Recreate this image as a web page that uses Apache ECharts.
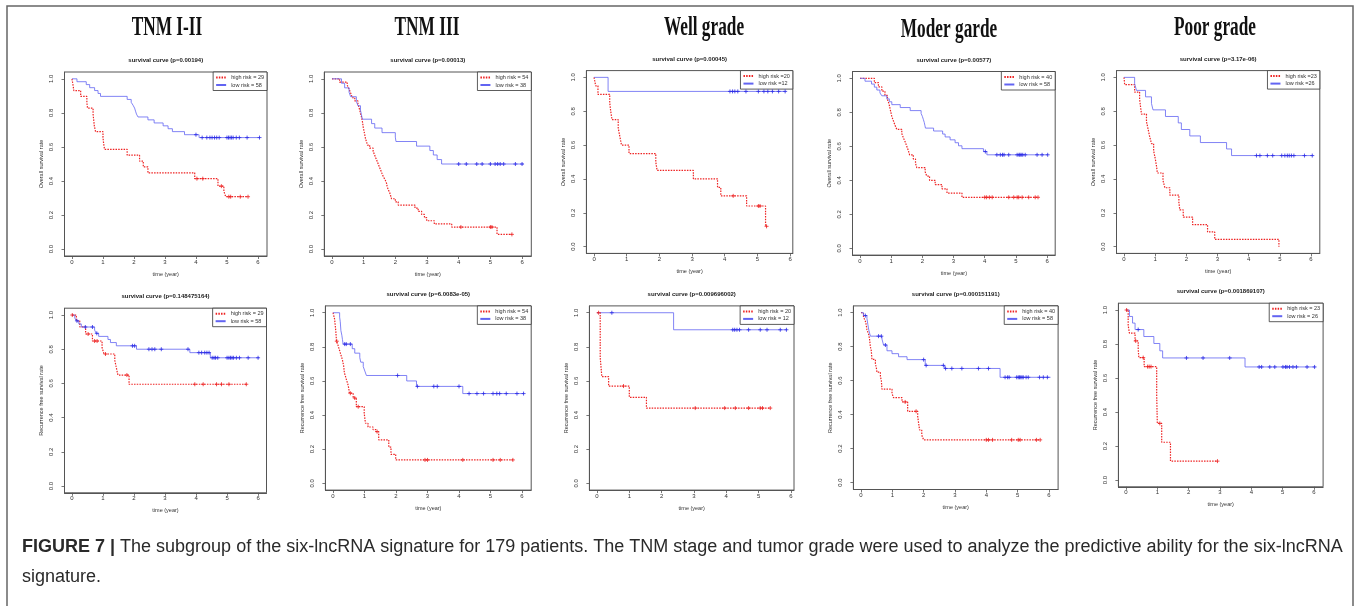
<!DOCTYPE html>
<html><head><meta charset="utf-8">
<script src="https://cdn.jsdelivr.net/npm/echarts@6/dist/echarts.min.js"></script>
<style>html,body{margin:0;padding:0;background:#fff}#c{width:1358px;height:606px}</style>
</head><body><div id="c"></div>
<script>
// ---------------- data ----------------
const panelTitles = ['TNM I-II', 'TNM III', 'Well grade', 'Moder garde', 'Poor grade'];
const subtitles = [
  'survival curve (p=0.00194)', 'survival curve (p=0.00013)', 'survival curve (p=0.00045)',
  'survival curve (p=0.00577)', 'survival curve (p=3.17e-06)',
  'survival curve (p=0.148475164)', 'survival curve (p=6.0083e-05)', 'survival curve (p=0.009696002)',
  'survival curve (p=0.000151191)', 'survival curve (p=0.001869107)'
];
const highNames = ['high risk = 29', 'high risk = 54', 'high risk =20', 'high risk = 40', 'high risk =23',
                   'high risk = 29', 'high risk = 54', 'high risk = 20', 'high risk = 40', 'high risk = 23'];
const lowNames  = ['low risk = 58', 'low risk = 38', 'low risk =12', 'low risk = 58', 'low risk =26',
                   'low risk = 58', 'low risk = 38', 'low risk = 12', 'low risk = 58', 'low risk = 26'];
const yAxisNames = ['Overall survival rate', 'Recurrence free survival rate'];
const xAxisName = 'time (year)';
const xTicks = [0, 1, 2, 3, 4, 5, 6];
const yTicks = [0, 0.2, 0.4, 0.6, 0.8, 1.0];
const captionBold = 'FIGURE 7 |';
const captionLine1 = ' The subgroup of the six-lncRNA signature for 179 patients. The TNM stage and tumor grade were used to analyze the predictive ability for the six-lncRNA';
const captionLine2 = 'signature.';

// Overall survival, TNM I-II
const osTnm12High = [[0,1],[0.03,0.966],[0.06,0.931],[0.28,0.897],[0.48,0.862],[0.5,0.828],[0.68,0.793],[0.7,0.759],[0.72,0.724],[0.76,0.69],[1.0,0.655],[1.02,0.621],[1.05,0.586],[1.78,0.552],[2.18,0.517],[2.3,0.483],[2.45,0.448],[3.96,0.414],[4.71,0.37],[4.9,0.34],[4.96,0.308],[5.68,0.308]];
const osTnm12HighCens = [4.03,4.22,4.82,5.06,5.12,5.43,5.68];
const osTnm12Low = [[0,1],[0.16,0.983],[0.46,0.966],[0.57,0.948],[0.73,0.931],[0.84,0.914],[0.92,0.897],[1.78,0.879],[1.91,0.862],[1.97,0.845],[2.02,0.828],[2.05,0.81],[2.08,0.793],[2.13,0.776],[2.45,0.759],[2.65,0.741],[2.94,0.724],[3.1,0.707],[3.24,0.69],[3.63,0.672],[4.1,0.655],[6.05,0.655]];
const osTnm12LowCens = [4.0,4.2,4.35,4.45,4.52,4.6,4.67,4.75,5.0,5.05,5.1,5.15,5.2,5.3,5.4,5.65,6.05];

// Overall survival, TNM III
const osTnm3High = [[0,1],[0.24,0.981],[0.48,0.963],[0.53,0.944],[0.57,0.926],[0.61,0.907],[0.64,0.889],[0.72,0.87],[0.82,0.852],[0.85,0.833],[0.88,0.815],[0.9,0.796],[0.93,0.778],[0.95,0.759],[0.97,0.741],[0.98,0.722],[1.0,0.704],[1.02,0.685],[1.04,0.667],[1.06,0.648],[1.09,0.63],[1.12,0.611],[1.19,0.593],[1.3,0.574],[1.34,0.556],[1.38,0.537],[1.42,0.519],[1.46,0.5],[1.5,0.481],[1.54,0.463],[1.58,0.444],[1.62,0.426],[1.68,0.407],[1.72,0.389],[1.74,0.37],[1.77,0.352],[1.82,0.333],[1.85,0.315],[1.88,0.296],[2.0,0.278],[2.09,0.259],[2.62,0.241],[2.72,0.222],[2.83,0.204],[2.92,0.185],[2.99,0.167],[3.23,0.148],[3.78,0.13],[5.21,0.087],[5.68,0.087]];
const osTnm3HighCens = [4.07,5.0,5.05,5.68];
const osTnm3Low = [[0,1],[0.3,0.974],[0.4,0.947],[0.54,0.921],[0.59,0.895],[0.77,0.868],[0.82,0.842],[0.9,0.816],[0.93,0.789],[0.96,0.763],[1.25,0.737],[1.35,0.711],[1.58,0.684],[2.0,0.658],[2.02,0.632],[2.67,0.605],[3.09,0.579],[3.2,0.553],[3.32,0.526],[3.46,0.5],[6.05,0.5]];
const osTnm3LowCens = [4.0,4.24,4.57,4.74,5.0,5.15,5.23,5.31,5.42,5.79,6.0];

// Overall survival, well grade
const osWellHigh = [[0,1],[0.05,0.95],[0.12,0.9],[0.48,0.85],[0.51,0.8],[0.55,0.75],[0.74,0.7],[0.79,0.65],[0.84,0.6],[1.07,0.55],[1.89,0.5],[1.93,0.45],[3.04,0.4],[3.78,0.35],[3.88,0.3],[4.67,0.24],[5.25,0.12],[5.28,0.12]];
const osWellHighCens = [4.26,5.03,5.08,5.28];
const osWellLow = [[0,1],[0.43,0.917],[5.85,0.917]];
const osWellLowCens = [4.16,4.24,4.31,4.4,4.65,5.03,5.2,5.32,5.46,5.65,5.85];

// Overall survival, moderate grade
const osModerHigh = [[0,1],[0.46,0.975],[0.59,0.95],[0.7,0.925],[0.8,0.9],[0.88,0.875],[0.93,0.85],[0.96,0.825],[0.99,0.8],[1.02,0.775],[1.07,0.75],[1.12,0.725],[1.18,0.7],[1.34,0.675],[1.39,0.65],[1.45,0.625],[1.5,0.6],[1.55,0.575],[1.59,0.55],[1.71,0.525],[1.78,0.5],[1.82,0.475],[2.09,0.45],[2.14,0.425],[2.23,0.4],[2.41,0.375],[2.63,0.35],[2.79,0.325],[3.27,0.3],[5.71,0.3]];
const osModerHighCens = [4.0,4.06,4.15,4.24,4.77,4.93,5.04,5.09,5.2,5.41,5.62,5.71];
const osModerLow = [[0,1],[0.16,0.983],[0.37,0.966],[0.46,0.948],[0.54,0.931],[0.64,0.914],[0.7,0.897],[0.86,0.879],[0.94,0.862],[1.02,0.845],[1.29,0.828],[1.61,0.81],[1.96,0.793],[2.0,0.776],[2.03,0.759],[2.06,0.741],[2.08,0.724],[2.1,0.707],[2.36,0.69],[2.65,0.672],[2.73,0.655],[2.89,0.638],[3.05,0.621],[3.16,0.603],[3.27,0.586],[3.96,0.569],[4.07,0.55],[6.02,0.55]];
const osModerLowCens = [4.02,4.39,4.5,4.57,4.62,4.77,5.04,5.1,5.13,5.17,5.22,5.3,5.68,5.84,6.02];

// Overall survival, poor grade
const osPoorHigh = [[0,1],[0.02,0.957],[0.34,0.913],[0.5,0.87],[0.53,0.826],[0.56,0.783],[0.72,0.739],[0.77,0.696],[0.82,0.652],[0.88,0.609],[0.95,0.565],[1.0,0.522],[1.04,0.478],[1.07,0.435],[1.25,0.391],[1.31,0.348],[1.47,0.304],[1.76,0.261],[1.79,0.217],[1.9,0.174],[2.2,0.13],[2.68,0.087],[2.91,0.043],[4.97,0.0]];
const osPoorHighCens = [];
const osPoorLow = [[0,1],[0.34,0.962],[0.4,0.923],[0.69,0.885],[0.88,0.846],[0.93,0.808],[1.33,0.769],[1.74,0.731],[1.84,0.692],[2.11,0.654],[2.45,0.615],[3.29,0.577],[3.45,0.538],[6.04,0.538]];
const osPoorLowCens = [4.25,4.36,4.6,4.77,5.06,5.16,5.24,5.3,5.37,5.45,5.79,6.04];

// Recurrence free survival, TNM I-II
const rfsTnm12High = [[0,1],[0.14,0.966],[0.25,0.931],[0.44,0.889],[0.66,0.848],[0.97,0.81],[1.03,0.772],[1.38,0.735],[1.43,0.692],[1.48,0.649],[1.84,0.595],[5.62,0.595]];
const rfsTnm12HighCens = [0.01,0.52,0.73,0.81,1.08,1.77,3.96,4.23,4.66,4.82,5.06,5.62];
const rfsTnm12Low = [[0,1],[0.09,0.983],[0.14,0.966],[0.22,0.948],[0.3,0.93],[0.73,0.912],[0.78,0.893],[0.86,0.875],[1.16,0.857],[1.24,0.839],[1.43,0.82],[2.08,0.8],[3.8,0.78],[4.46,0.75],[6.03,0.75]];
const rfsTnm12LowCens = [0.16,0.43,0.66,0.8,1.95,2.02,2.48,2.58,2.67,2.88,3.74,4.09,4.18,4.28,4.35,4.42,4.52,4.58,4.63,4.7,5.0,5.06,5.11,5.16,5.21,5.3,5.4,5.68,6.0];

// Recurrence free survival, TNM III
const rfsTnm3High = [[0,1],[0.05,0.963],[0.07,0.926],[0.09,0.889],[0.11,0.833],[0.15,0.815],[0.18,0.796],[0.21,0.778],[0.24,0.759],[0.27,0.741],[0.3,0.722],[0.32,0.704],[0.34,0.685],[0.36,0.648],[0.39,0.63],[0.42,0.611],[0.45,0.593],[0.48,0.574],[0.5,0.556],[0.52,0.528],[0.64,0.5],[0.74,0.449],[0.99,0.41],[1.03,0.352],[1.11,0.33],[1.27,0.315],[1.36,0.303],[1.45,0.255],[1.77,0.212],[1.84,0.17],[1.99,0.137],[5.71,0.137]];
const rfsTnm3HighCens = [0.12,0.55,0.69,0.8,1.4,2.92,3.0,4.12,5.08,5.31,5.71];
const rfsTnm3Low = [[0,1],[0.21,0.974],[0.23,0.947],[0.25,0.895],[0.28,0.868],[0.3,0.842],[0.32,0.816],[0.61,0.789],[0.69,0.763],[0.85,0.737],[0.88,0.71],[0.96,0.684],[1.01,0.658],[1.06,0.632],[2.34,0.6],[2.65,0.568],[4.12,0.526],[6.05,0.526]];
const rfsTnm3LowCens = [0.37,0.42,0.55,2.05,2.68,3.2,3.31,4.0,4.32,4.57,4.78,5.08,5.2,5.29,5.5,5.84,6.05];

// Recurrence free survival, well grade
const rfsWellHigh = [[0,1],[0.1,0.737],[0.15,0.625],[0.36,0.57],[1.0,0.504],[1.53,0.441],[5.36,0.441]];
const rfsWellHighCens = [0.05,0.82,3.04,3.95,4.28,4.69,5.05,5.12,5.36];
const rfsWellLow = [[0,1],[2.37,0.9],[5.86,0.9]];
const rfsWellLowCens = [0.46,4.2,4.26,4.33,4.41,4.69,5.05,5.26,5.67,5.86];

// Recurrence free survival, moderate grade
const rfsModerHigh = [[0,1],[0.08,0.975],[0.14,0.95],[0.17,0.925],[0.19,0.9],[0.24,0.875],[0.27,0.85],[0.3,0.8],[0.33,0.775],[0.35,0.725],[0.46,0.7],[0.49,0.675],[0.51,0.65],[0.62,0.625],[0.65,0.6],[0.67,0.55],[0.99,0.525],[1.04,0.5],[1.31,0.475],[1.49,0.42],[1.81,0.39],[1.84,0.35],[1.87,0.31],[1.94,0.28],[2.0,0.252],[5.72,0.252]];
const rfsModerHighCens = [1.41,1.76,4.0,4.07,4.2,4.81,5.02,5.08,5.6,5.72];
const rfsModerLow = [[0,1],[0.08,0.983],[0.19,0.966],[0.22,0.931],[0.25,0.897],[0.3,0.862],[0.67,0.845],[0.72,0.81],[0.83,0.776],[0.99,0.759],[1.2,0.741],[1.47,0.724],[2.05,0.69],[2.67,0.672],[4.44,0.62],[6.05,0.62]];
const rfsModerLowCens = [0.14,0.56,0.65,0.78,2.0,2.08,2.63,2.7,2.9,3.22,3.75,4.07,4.6,4.68,4.73,4.97,5.02,5.06,5.1,5.14,5.18,5.27,5.34,5.7,5.82,5.95];

// Recurrence free survival, poor grade
const rfsPoorHigh = [[0,1],[0.07,0.909],[0.11,0.864],[0.29,0.818],[0.39,0.77],[0.41,0.72],[0.58,0.667],[0.98,0.5],[1.0,0.333],[1.14,0.222],[1.42,0.111],[2.92,0.111]];
const rfsPoorHighCens = [0.02,0.31,0.55,0.69,0.74,0.8,1.08,2.92];
const rfsPoorLow = [[0,1],[0.11,0.962],[0.21,0.923],[0.29,0.885],[0.57,0.844],[0.89,0.803],[1.08,0.76],[1.17,0.718],[3.8,0.665],[6.05,0.665]];
const rfsPoorLowCens = [0.39,1.93,2.46,3.31,4.25,4.33,4.59,4.75,5.01,5.09,5.14,5.22,5.33,5.44,5.78,6.02];

const panels = [
  [osTnm12High, osTnm12HighCens, osTnm12Low, osTnm12LowCens],
  [osTnm3High, osTnm3HighCens, osTnm3Low, osTnm3LowCens],
  [osWellHigh, osWellHighCens, osWellLow, osWellLowCens],
  [osModerHigh, osModerHighCens, osModerLow, osModerLowCens],
  [osPoorHigh, osPoorHighCens, osPoorLow, osPoorLowCens],
  [rfsTnm12High, rfsTnm12HighCens, rfsTnm12Low, rfsTnm12LowCens],
  [rfsTnm3High, rfsTnm3HighCens, rfsTnm3Low, rfsTnm3LowCens],
  [rfsWellHigh, rfsWellHighCens, rfsWellLow, rfsWellLowCens],
  [rfsModerHigh, rfsModerHighCens, rfsModerLow, rfsModerLowCens],
  [rfsPoorHigh, rfsPoorHighCens, rfsPoorLow, rfsPoorLowCens]
];

// ---------------- layout (plot boxes: left, top, width, height in px) ----------------
const W = 1358;
const boxes = [
  [64.5, 72, 202.5, 184], [324.3, 72, 207, 184], [586.4, 70.6, 206.4, 182.8],
  [852.5, 71.5, 202.7, 183.6], [1116.5, 70.6, 203.3, 182.8],
  [64.5, 308.2, 202, 184.6], [325.4, 305.9, 205.8, 184.2], [589.4, 305.9, 204.6, 184.2],
  [853.4, 305.9, 204.7, 183.6], [1118.4, 303.2, 204.7, 183.6]
];
const titlePos = [[167, 28], [427, 28], [704, 28], [949, 30], [1215, 28]];
const RED = '#ee2222', BLUE = '#6264f2', BLUE_MARK = '#2a2ae6';
const AX = '#555', TXT = '#333';
const SANS = '"Liberation Sans", Arial, sans-serif';
const PLUS = 'path://M0,5L10,5M5,0L5,10';

function stepAt(curve, t) {
  let v = curve[0][1];
  for (const p of curve) { if (p[0] <= t) v = p[1]; else break; }
  return v;
}

const grid = [], xAxis = [], yAxis = [], series = [], legend = [], graphic = [];

panels.forEach((pn, i) => {
  const b = boxes[i];
  const [high, highC, low, lowC] = pn;
  let tmax = 0;
  [high, low].forEach(c => c.forEach(p => { tmax = Math.max(tmax, p[0]); }));
  [highC, lowC].forEach(c => c.forEach(t => { tmax = Math.max(tmax, t); }));
  grid.push({ left: b[0], top: b[1], width: b[2], height: b[3], show: true,
    borderColor: AX, borderWidth: 1, backgroundColor: 'transparent', containLabel: false });
  xAxis.push({ type: 'value', gridIndex: i, min: -0.04 * tmax, max: 1.04 * tmax,
    axisLine: { show: true, onZero: false, lineStyle: { color: AX, width: 1 } },
    axisTick: { show: true, length: 3, lineStyle: { color: AX, width: 0.8 }, customValues: xTicks },
    axisLabel: { show: true, customValues: xTicks, fontSize: 6, color: TXT, margin: 3, fontFamily: SANS,
      formatter: v => String(Math.round(v)) },
    splitLine: { show: false },
    name: xAxisName, nameLocation: 'middle', nameGap: 15,
    nameTextStyle: { fontSize: 5.5, color: TXT, fontFamily: SANS } });
  yAxis.push({ type: 'value', gridIndex: i, min: -0.04, max: 1.04,
    axisLine: { show: true, onZero: false, lineStyle: { color: AX, width: 1 } },
    axisTick: { show: true, length: 3, lineStyle: { color: AX, width: 0.8 }, customValues: yTicks },
    axisLabel: { show: true, customValues: yTicks, rotate: 90, fontSize: 6, color: TXT, margin: 10, fontFamily: SANS,
      formatter: v => v.toFixed(1) },
    splitLine: { show: false },
    name: yAxisNames[i < 5 ? 0 : 1], nameLocation: 'middle', nameGap: 20,
    nameTextStyle: { fontSize: 5.5, color: TXT, fontFamily: SANS } });

  series.push({ type: 'line', name: highNames[i], xAxisIndex: i, yAxisIndex: i, data: high,
    step: 'end', symbol: 'none', silent: true, z: 3,
    lineStyle: { color: RED, width: 1.2, type: [1.5, 1.2] }, itemStyle: { color: RED } });
  series.push({ type: 'line', name: lowNames[i], xAxisIndex: i, yAxisIndex: i, data: low,
    step: 'end', symbol: 'none', silent: true, z: 3,
    lineStyle: { color: BLUE, width: 0.8 }, itemStyle: { color: BLUE } });
  series.push({ type: 'scatter', name: 'hc' + i, xAxisIndex: i, yAxisIndex: i,
    data: highC.map(t => [t, stepAt(high, t)]), symbol: PLUS, symbolSize: 4, silent: true, z: 4,
    itemStyle: { color: 'rgba(0,0,0,0)', borderColor: RED, borderWidth: 1 } });
  series.push({ type: 'scatter', name: 'lc' + i, xAxisIndex: i, yAxisIndex: i,
    data: lowC.map(t => [t, stepAt(low, t)]), symbol: PLUS, symbolSize: 4, silent: true, z: 4,
    itemStyle: { color: 'rgba(0,0,0,0)', borderColor: BLUE_MARK, borderWidth: 1 } });

  legend.push({ data: [highNames[i], lowNames[i]], orient: 'vertical',
    right: W - (b[0] + b[2]), top: b[1], align: 'left', selectedMode: false,
    itemWidth: 10, itemHeight: 5, itemGap: 1.5, padding: [2.5, 3, 2.5, 2],
    borderColor: '#333', borderWidth: 0.8, backgroundColor: '#fff', borderRadius: 0,
    itemStyle: { color: 'rgba(0,0,0,0)', borderColor: 'rgba(0,0,0,0)', borderWidth: 0 },
    textStyle: { fontSize: 5.5, color: TXT, fontFamily: SANS } });

  graphic.push({ type: 'text', x: b[0] + b[2] / 2, y: b[1] - 11.5, silent: true,
    style: { text: subtitles[i], font: 'bold 6px ' + SANS, fill: '#222',
      align: 'center', verticalAlign: 'middle', textAlign: 'center', textVerticalAlign: 'middle' } });
});

panelTitles.forEach((t, i) => {
  graphic.push({ type: 'text', x: titlePos[i][0], y: titlePos[i][1], scaleX: 0.64, silent: true,
    style: { text: t, font: 'bold 27px "Liberation Serif", "Times New Roman", serif', fill: '#111',
      align: 'center', verticalAlign: 'middle', textAlign: 'center', textVerticalAlign: 'middle' } });
});

graphic.push({ type: 'rect', silent: true, shape: { x: 7, y: 6, width: 1346, height: 640 },
  style: { fill: 'none', stroke: '#666', lineWidth: 1.5 } });
graphic.push({ type: 'text', x: 22, y: 547, silent: true,
  style: { text: '{b|' + captionBold + '}' + captionLine1, font: '18px ' + SANS, fill: '#2a2a2a',
    verticalAlign: 'middle', textVerticalAlign: 'middle',
    rich: { b: { font: 'bold 18px ' + SANS, fill: '#2a2a2a' } } } });
graphic.push({ type: 'text', x: 22, y: 577, silent: true,
  style: { text: captionLine2, font: '18px ' + SANS, fill: '#2a2a2a',
    verticalAlign: 'middle', textVerticalAlign: 'middle' } });

const chart = echarts.init(document.getElementById('c'), null, { renderer: 'canvas' });
chart.setOption({ animation: false, backgroundColor: '#fff', grid, xAxis, yAxis, series, legend, graphic });
</script></body></html>
